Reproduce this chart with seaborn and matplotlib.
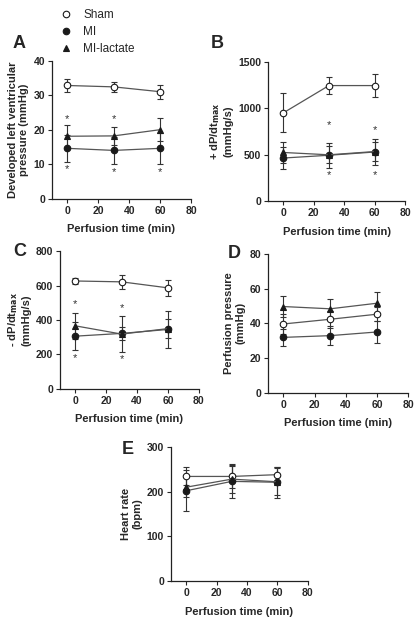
import numpy as np
import pandas as pd
import seaborn as sns
from matplotlib import pyplot as plt
from matplotlib.lines import Line2D

sns.set_style("ticks")
plt.rcParams['font.family'] = ['Liberation Sans', 'DejaVu Sans']
plt.rcParams['font.weight'] = 'bold'
plt.rcParams['axes.labelweight'] = 'bold'

time = [0, 30, 60]
groups = ["Sham", "MI", "MI-lactate"]

# A: developed left ventricular pressure (mmHg)
dlvp_sham = [32.8, 32.4, 31.0]
dlvp_sham_err = [1.9, 1.5, 2.0]
dlvp_mi = [14.6, 14.0, 14.6]
dlvp_mi_err = [4.0, 4.0, 4.4]
dlvp_lac = [18.1, 18.2, 20.0]
dlvp_lac_err = [3.3, 2.6, 3.4]

# B: +dP/dt max (mmHg/s)
dpp_sham = [950, 1245, 1245]
dpp_sham_err = [210, 90, 120]
dpp_mi = [465, 495, 530]
dpp_mi_err = [120, 135, 145]
dpp_lac = [525, 500, 535]
dpp_lac_err = [115, 90, 105]

# C: -dP/dt max (mmHg/s)
dpn_sham = [627, 622, 587]
dpn_sham_err = [15, 42, 45]
dpn_mi = [306, 322, 345]
dpn_mi_err = [82, 40, 105]
dpn_lac = [366, 318, 350]
dpn_lac_err = [77, 105, 55]

# D: perfusion pressure (mmHg)
pp_sham = [39.7, 42.4, 45.3]
pp_sham_err = [5.5, 5.0, 4.0]
pp_mi = [32.0, 33.0, 35.1]
pp_mi_err = [4.8, 5.4, 6.2]
pp_lac = [49.7, 48.4, 51.6]
pp_lac_err = [6.2, 5.8, 6.5]

# E: heart rate (bpm)
hr_sham = [234, 234, 238]
hr_sham_err = [20, 25, 18]
hr_mi = [202, 223, 221]
hr_mi_err = [46, 38, 35]
hr_lac = [210, 228, 222]
hr_lac_err = [22, 30, 30]

# asterisks (time, y)
stars_a = [(0, 23.1), (30, 23.1), (0, 8.5), (30, 7.8), (60, 7.8)]
stars_b = [(30, 815), (60, 770), (30, 280), (60, 280)]
stars_c = [(0, 491), (30, 472), (0, 177), (30, 171)]

panels = [
    ("A", [0.125, 0.682, 0.334, 0.221], (dlvp_sham, dlvp_mi, dlvp_lac),
     (dlvp_sham_err, dlvp_mi_err, dlvp_lac_err), (0, 40), [0, 10, 20, 30, 40],
     "Developed left ventricular\npressure (mmHg)", stars_a, (13, 43)),
    ("B", [0.644, 0.678, 0.330, 0.223], (dpp_sham, dpp_mi, dpp_lac),
     (dpp_sham_err, dpp_mi_err, dpp_lac_err), (0, 1500), [0, 500, 1000, 1500],
     "+ dP/dt$_{\\mathbf{max}}$\n(mmHg/s)", stars_b, (211, 43)),
    ("C", [0.144, 0.378, 0.334, 0.220], (dpn_sham, dpn_mi, dpn_lac),
     (dpn_sham_err, dpn_mi_err, dpn_lac_err), (0, 800), [0, 200, 400, 600, 800],
     "- dP/dt$_{\\mathbf{max}}$\n(mmHg/s)", stars_c, (13, 252)),
    ("D", [0.644, 0.371, 0.337, 0.223], (pp_sham, pp_mi, pp_lac),
     (pp_sham_err, pp_mi_err, pp_lac_err), (0, 80), [0, 20, 40, 60, 80],
     "Perfusion pressure\n(mmHg)", [], (228, 253)),
    ("E", [0.411, 0.070, 0.329, 0.215], (hr_sham, hr_mi, hr_lac),
     (hr_sham_err, hr_mi_err, hr_lac_err), (0, 300), [0, 100, 200, 300],
     "Heart rate\n(bpm)", [], (122, 450)),
]

markers = {"Sham": "o", "MI": "o", "MI-lactate": "^"}
faces = {"Sham": "white", "MI": "#1a1a1a", "MI-lactate": "#1a1a1a"}
dark = "#1a1a1a"
line_col = "#555555"

fig = plt.figure(figsize=(4.16, 6.25), dpi=100)

for label, pos, vals, errs, ylim, yticks, ylabel, stars, lab_xy in panels:
    ax = fig.add_axes(pos)
    rows = []
    for g, v in zip(groups, vals):
        for t, y in zip(time, v):
            rows.append({"time": t, "value": y, "group": g})
    df = pd.DataFrame(rows)
    for g, e in zip(groups, errs):
        sub = df[df.group == g]
        ax.errorbar(sub["time"], sub["value"], yerr=e, fmt="none",
                    ecolor="#333333", elinewidth=0.8, capsize=2.3, capthick=0.8, zorder=2)
        sns.lineplot(data=sub, x="time", y="value", ax=ax, color=line_col, lw=0.9,
                     marker=markers[g], markersize=4.7 if g != "MI-lactate" else 4.4,
                     markerfacecolor=faces[g], markeredgecolor=dark,
                     markeredgewidth=0.8, zorder=3)
    for t, y in stars:
        ax.text(t, y, "*", ha="center", va="center", fontsize=8,
                color="#333333", fontweight="normal")
    ax.set_xlim(-10, 80)
    ax.set_ylim(*ylim)
    ax.set_xticks([0, 20, 40, 60, 80])
    ax.set_yticks(yticks)
    ax.tick_params(labelsize=7.5, width=0.8, length=3, pad=2)
    ax.set_xlabel("Perfusion time (min)", fontsize=8, labelpad=6)
    ax.set_ylabel(ylabel, fontsize=8, labelpad=3)
    for s in ["left", "bottom"]:
        ax.spines[s].set_linewidth(0.9)
        ax.spines[s].set_color("#222222")
    sns.despine(ax=ax)
    fig.text(lab_xy[0] / 416, 1 - lab_xy[1] / 625, label, fontsize=13,
             fontweight="bold", ha="left", va="center")

handles = [Line2D([], [], linestyle="none", marker=markers[g], markersize=4.7,
                  markerfacecolor=faces[g], markeredgecolor=dark, markeredgewidth=0.8)
           for g in groups]
fig.legend(handles, groups, loc="upper left", bbox_to_anchor=(0.115, 1.003),
           frameon=False, handlelength=1.2, handletextpad=0.9,
           labelspacing=0.45, prop={"weight": "normal", "size": 8.5})

fig.savefig("out.png", dpi=100)
